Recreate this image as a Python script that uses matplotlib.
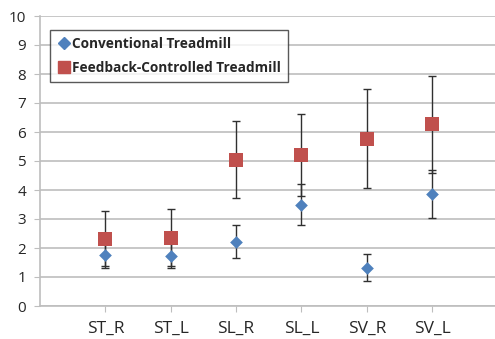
import matplotlib
matplotlib.use("Agg")
import matplotlib.pyplot as plt
from matplotlib.lines import Line2D

categories = ["ST_R", "ST_L", "SL_R", "SL_L", "SV_R", "SV_L"]
conv_mean = [1.77, 1.74, 2.22, 3.50, 1.32, 3.85]
conv_err = [0.46, 0.44, 0.57, 0.72, 0.47, 0.83]
fb_mean = [2.32, 2.36, 5.04, 5.20, 5.77, 6.26]
fb_err = [0.94, 0.97, 1.33, 1.42, 1.70, 1.68]

BLUE = "#4F81BD"
RED = "#C0504D"
GRID = "#BEBEBE"
TXT = "#262626"

plt.rcParams.update({"font.family": ["Open Sans", "DejaVu Sans"], "font.size": 10})

fig = plt.figure(figsize=(4.95, 3.39), dpi=100)
ax = fig.add_axes([40 / 495, 33 / 339, 455 / 495, 290 / 339])

x = list(range(1, len(categories) + 1))
ax.errorbar(x, conv_mean, yerr=conv_err, fmt="none", ecolor="#303030",
            elinewidth=1.0, capsize=3, capthick=1.0, zorder=3)
ax.errorbar(x, fb_mean, yerr=fb_err, fmt="none", ecolor="#303030",
            elinewidth=1.0, capsize=3, capthick=1.0, zorder=3)
ax.scatter(x, conv_mean, marker="D", s=42, color=BLUE, zorder=4, linewidths=0)
ax.scatter(x, fb_mean, marker="s", s=90, color=RED, zorder=4, linewidths=0)

ax.set_xlim(0, 6.96)
ax.set_ylim(0, 10)
ax.set_yticks(range(0, 11))
ax.set_xticks(x)
ax.set_xticklabels(categories)
ax.yaxis.grid(True, color=GRID, lw=1.2)
ax.set_axisbelow(True)
for s in ("top", "right"):
    ax.spines[s].set_visible(False)
for s in ("left", "bottom"):
    ax.spines[s].set_color(GRID)
    ax.spines[s].set_linewidth(1.2)
ax.tick_params(axis="y", length=4, color=GRID, labelcolor=TXT, labelsize=11, pad=6)
ax.tick_params(axis="x", length=4, color=GRID, labelcolor=TXT, labelsize=12.5, pad=7)

handles = [
    Line2D([], [], ls="none", marker="D", ms=6, color=BLUE, label="Conventional Treadmill"),
    Line2D([], [], ls="none", marker="s", ms=9, color=RED, label="Feedback-Controlled Treadmill"),
]
leg = ax.legend(handles=handles, loc="upper left", bbox_to_anchor=(0.022, 0.952),
                frameon=True, fancybox=False, handletextpad=0.15, handlelength=1.0,
                borderpad=0.5, labelspacing=0.75, borderaxespad=0,
                prop={"weight": "bold", "size": 9.8})
leg.get_frame().set_edgecolor("#303030")
leg.get_frame().set_linewidth(1.0)
for t in leg.get_texts():
    t.set_color(TXT)

fig.savefig("out.png", dpi=100)
